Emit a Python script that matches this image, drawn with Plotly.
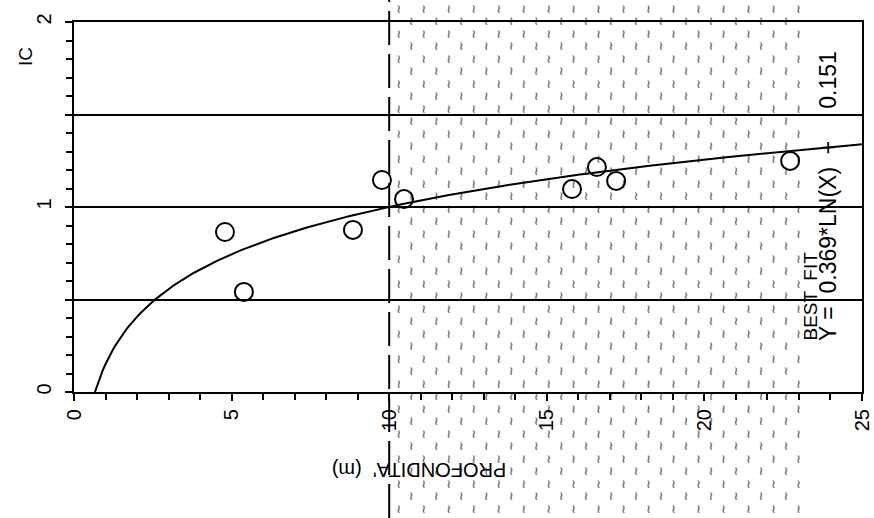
import numpy as np
import plotly.graph_objects as go

# Measured points: depth (m) vs consistency index IC
depth = [4.79, 5.39, 8.85, 9.77, 10.47, 15.80, 16.59, 17.20, 22.72]
ic = [0.865, 0.541, 0.876, 1.146, 1.043, 1.097, 1.216, 1.141, 1.249]

# Logarithmic best fit  Y = A*LN(X) + B
fit_a = 0.369
fit_b = 0.151

# Depth range of the shaded layer and the boundary marked by the dashed line
layer_top = 10.0
layer_bottom = 23.0

x_ticks = [0, 5, 10, 15, 20, 25]
y_ticks = [0, 0.5, 1, 1.5, 2]
y_ticktext = ["0", "", "1", "", "2"]

X_MAX = 25.0
Y_MAX = 2.0

# Page and frame geometry (pixels)
W, H = 874, 518
FL, FR, FT, FB = 74, 862, 22, 392
kx = (FR - FL) / X_MAX
ky = (FB - FT) / Y_MAX
# Data range covered by the whole page, same scale as the framed axes
page_x = [-FL / kx, (W - FL) / kx]
page_y = [-(H - FB) / ky, FB / ky]

fig = go.Figure()

# Squiggle texture for the shaded layer, spread over the whole sheet height
hx, hy = [], []
col_step = 0.793
row_step = 0.0676
edge = 8 / ky  # keep every glyph fully on the sheet
for i, yy in enumerate(np.arange(page_y[0] + edge, page_y[1] - edge, row_step)):
    off = 0.0 if i % 2 == 0 else col_step / 2
    for xx in np.arange(layer_top + 0.3 + off, layer_bottom, col_step):
        hx.append(xx)
        hy.append(yy)
fig.add_trace(go.Scatter(
    x=hx, y=hy, xaxis="x", yaxis="y", mode="text", text=["≀"] * len(hx),
    textfont=dict(family="DejaVu Sans", size=12, color="#707070", weight="bold"),
    hoverinfo="skip", showlegend=False,
))

# Fitted curve
xf = np.linspace(np.exp(-fit_b / fit_a), X_MAX, 300)
yf = fit_a * np.log(xf) + fit_b
fig.add_trace(go.Scatter(
    x=xf, y=yf, xaxis="x2", yaxis="y2", mode="lines",
    line=dict(color="black", width=2), showlegend=False,
))

# Data points as open circles
fig.add_trace(go.Scatter(
    x=depth, y=ic, xaxis="x2", yaxis="y2", mode="markers",
    marker=dict(symbol="circle-open", size=18, color="black", line=dict(width=2)),
    showlegend=False,
))

# Dashed boundary line running over the whole sheet
fig.add_shape(
    type="line", xref="x", yref="y",
    x0=layer_top, x1=layer_top, y0=page_y[0], y1=page_y[1],
    line=dict(color="black", width=2, dash="34px,9px"),
)

font = "Liberation Sans, Arial, sans-serif"

fig.add_annotation(
    text="IC", xref="x", yref="y", x=(25 - FL) / kx, y=(FB - 57) / ky,
    showarrow=False, textangle=-90, font=dict(family=font, size=19, color="black"),
)
fig.add_annotation(
    text="PROFONDITA'  (m)", xref="x", yref="y", x=10.95, y=(FB - 470) / ky,
    showarrow=False, textangle=180, font=dict(family=font, size=20, color="black"),
)
fig.add_annotation(
    text="BEST  FIT", xref="x", yref="y", x=(810 - FL) / kx, y=(FB - 343) / ky,
    xanchor="center", yanchor="bottom",
    showarrow=False, textangle=-90, font=dict(family=font, size=19, color="black"),
)
fig.add_annotation(
    text=f"Y =  {fit_a:.3f}*LN(X)  +     {fit_b:.3f}", xref="x", yref="y",
    x=(828 - FL) / kx, y=(FB - 343) / ky,
    xanchor="center", yanchor="bottom",
    showarrow=False, textangle=-90, font=dict(family=font, size=23, color="black"),
)

hidden = dict(visible=False, showgrid=False, zeroline=False, fixedrange=True, automargin=False)

fig.update_layout(
    width=W, height=H,
    margin=dict(l=0, r=0, t=0, b=0, pad=0, autoexpand=False),
    paper_bgcolor="white", plot_bgcolor="rgba(0,0,0,0)",
    font=dict(family=font, color="black"),
    xaxis=dict(domain=[0, 1], range=page_x, anchor="y", **hidden),
    yaxis=dict(domain=[0, 1], range=page_y, anchor="x", **hidden),
    xaxis2=dict(
        domain=[FL / W, FR / W], anchor="y2", automargin=False,
        range=[0, X_MAX], tickvals=x_ticks, ticks="outside", ticklen=7, tickwidth=2,
        tickcolor="black", tickangle=-90, tickfont=dict(size=20),
        minor=dict(dtick=1, ticks="outside", ticklen=6, tickwidth=1.5, tickcolor="black"),
        showgrid=False, zeroline=False,
        showline=True, linecolor="black", linewidth=2, mirror=True,
    ),
    yaxis2=dict(
        domain=[(H - FB) / H, (H - FT) / H], anchor="x2", automargin=False,
        range=[0, Y_MAX], tickvals=y_ticks, ticktext=y_ticktext,
        ticks="outside", ticklen=7, tickwidth=2, tickcolor="black",
        tickangle=-90, tickfont=dict(size=20), ticklabelstandoff=6,
        minor=dict(dtick=0.1, ticks="outside", ticklen=6, tickwidth=1.5, tickcolor="black"),
        showgrid=True, gridcolor="black", gridwidth=1.8, zeroline=False,
        showline=True, linecolor="black", linewidth=2, mirror=True,
    ),
)

fig.write_html("out.html")
